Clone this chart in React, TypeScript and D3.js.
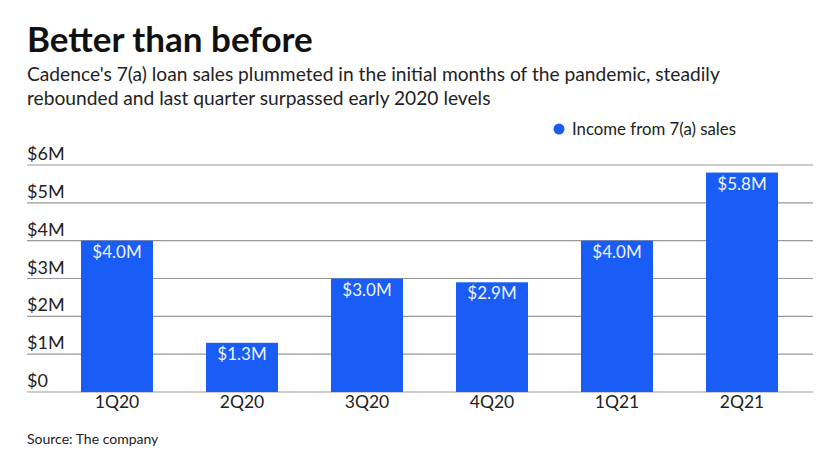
import * as d3 from 'd3'

const quarters = ['1Q20', '2Q20', '3Q20', '4Q20', '1Q21', '2Q21']
const income = [4.0, 1.3, 3.0, 2.9, 4.0, 5.8]
const yTicks = [0, 1, 2, 3, 4, 5, 6]

const W = 840
const H = 472
const BLUE = '#1a5cf6'
const FONT = 'Lato, "Open Sans", sans-serif'

export default function App() {
  const x = d3.scaleBand<string>()
    .domain(quarters)
    .range([54.5, 804.5])
    .paddingInner(0.424)
    .paddingOuter(0.212)

  const y = d3.scaleLinear().domain([0, 6]).range([392, 165])

  return (
    <svg width={W} height={H} style={{ position: 'absolute', left: 0, top: 0, background: '#fff' }} fontFamily={FONT}>
      <text x={27} y={52} fontSize={35} fontWeight={700} fill="#111">Better than before</text>
      <text x={27} y={81} fontSize={19.2} fill="#222">
        Cadence's 7(a) loan sales plummeted in the initial months of the pandemic, steadily
      </text>
      <text x={27} y={105} fontSize={19.2} fill="#222">
        rebounded and last quarter surpassed early 2020 levels
      </text>

      {/* legend */}
      <circle cx={559} cy={129} r={5.5} fill={BLUE} />
      <text x={572} y={135} fontSize={16.8} fill="#222">Income from 7(a) sales</text>

      {/* gridlines + y labels */}
      {yTicks.map(t => (
        <g key={t}>
          <line x1={27} x2={813} y1={y(t)} y2={y(t)} stroke="#999" strokeWidth={1.2} />
          <text x={27} y={y(t) - 5} fontSize={18} fill="#222">{`$${t === 0 ? 0 : t + 'M'}`}</text>
        </g>
      ))}

      {/* bars */}
      {quarters.map((q, i) => (
        <g key={q}>
          <rect x={x(q)} y={y(income[i])} width={x.bandwidth()} height={y(0) - y(income[i])} fill={BLUE} />
          <text x={(x(q) || 0) + x.bandwidth() / 2} y={y(income[i]) + 17} textAnchor="middle" fontSize={17} fill="#eef3ff">
            {`$${income[i].toFixed(1)}M`}
          </text>
          <text x={(x(q) || 0) + x.bandwidth() / 2} y={408} textAnchor="middle" fontSize={17.5} fill="#222">{q}</text>
        </g>
      ))}

      <text x={27} y={444} fontSize={14} fill="#222">Source: The company</text>
    </svg>
  )
}
